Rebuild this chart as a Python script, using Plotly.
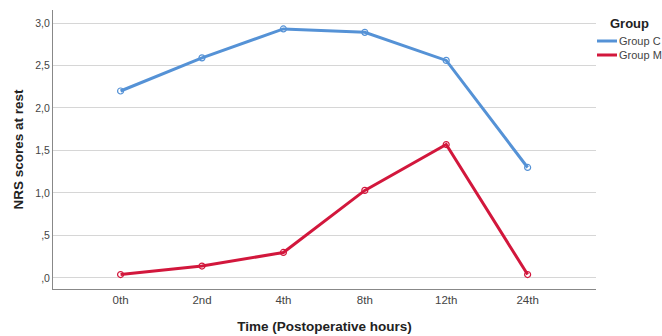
import plotly.graph_objects as go

time_labels = ["0th", "2nd", "4th", "8th", "12th", "24th"]
group_names = ["Group C", "Group M"]
group_c = [2.20, 2.59, 2.93, 2.89, 2.56, 1.30]
group_m = [0.04, 0.14, 0.30, 1.03, 1.57, 0.04]
y_tickvals = [0, 0.5, 1.0, 1.5, 2.0, 2.5, 3.0]
y_ticktext = [",0", ",5", "1,0", "1,5", "2,0", "2,5", "3,0"]

colors = ["#5592d6", "#d2173c"]
x_idx = list(range(len(time_labels)))
FONT = "Arial, Liberation Sans, sans-serif"

W, H = 662, 336
ML, MR, MT, MB = 53, 66, 10, 47
PW, PH = W - ML - MR, H - MT - MB

def px_x(x):  # page pixel -> paper fraction
    return (x - ML) / PW

def px_y(y):
    return (H - MB - y) / PH

fig = go.Figure()
for name, vals, col in zip(group_names, [group_c, group_m], colors):
    fig.add_trace(go.Scatter(
        x=x_idx, y=vals, name=name, mode="lines+markers", showlegend=False,
        line=dict(color=col, width=3),
        marker=dict(symbol="circle-open", size=6, color=col, line=dict(width=1.2)),
    ))

# manual legend (SPSS style)
annotations = [dict(
    xref="paper", yref="paper", x=px_x(608), y=px_y(23), xanchor="left", yanchor="middle",
    text="<b>Group</b>", showarrow=False, font=dict(size=13, color="#222222", family=FONT),
)]
shapes = []
for i, (name, col) in enumerate(zip(group_names, colors)):
    yy = 41 + i * 14
    shapes.append(dict(type="line", xref="paper", yref="paper",
                       x0=px_x(597), x1=px_x(617), y0=px_y(yy), y1=px_y(yy),
                       line=dict(color=col, width=3)))
    annotations.append(dict(
        xref="paper", yref="paper", x=px_x(617), y=px_y(yy), xanchor="left", yanchor="middle",
        text=name, showarrow=False, font=dict(size=11, color="#444444", family=FONT),
    ))

fig.update_layout(
    width=W, height=H,
    margin=dict(l=ML, r=MR, t=MT, b=MB, autoexpand=False),
    paper_bgcolor="white", plot_bgcolor="white",
    font=dict(family=FONT, size=11, color="#333333"),
    showlegend=False,
    annotations=annotations,
    shapes=shapes,
    xaxis=dict(
        range=[-0.83, 5.84],
        tickvals=x_idx, ticktext=time_labels,
        showgrid=False, zeroline=False,
        showline=True, linecolor="#888888", linewidth=1,
        ticks="", tickfont=dict(size=11.5, color="#444444"),
        title=dict(text="<b>Time (Postoperative hours)</b>", font=dict(size=13.5, color="#222222"), standoff=16),
    ),
    yaxis=dict(
        range=[-0.13, 3.153],
        tickvals=y_tickvals, ticktext=y_ticktext,
        showgrid=True, gridcolor="#d6d6d6", gridwidth=1,
        zeroline=False,
        showline=True, linecolor="#888888", linewidth=1,
        ticks="", tickfont=dict(size=10.5, color="#444444"),
        title=dict(text="<b>NRS scores at rest</b>", font=dict(size=13.5, color="#222222"), standoff=8),
    ),
)

fig.write_html(
    "out.html",
    config={"displayModeBar": False},
    post_script="document.body.style.margin='0';document.body.style.overflow='hidden';",
)
